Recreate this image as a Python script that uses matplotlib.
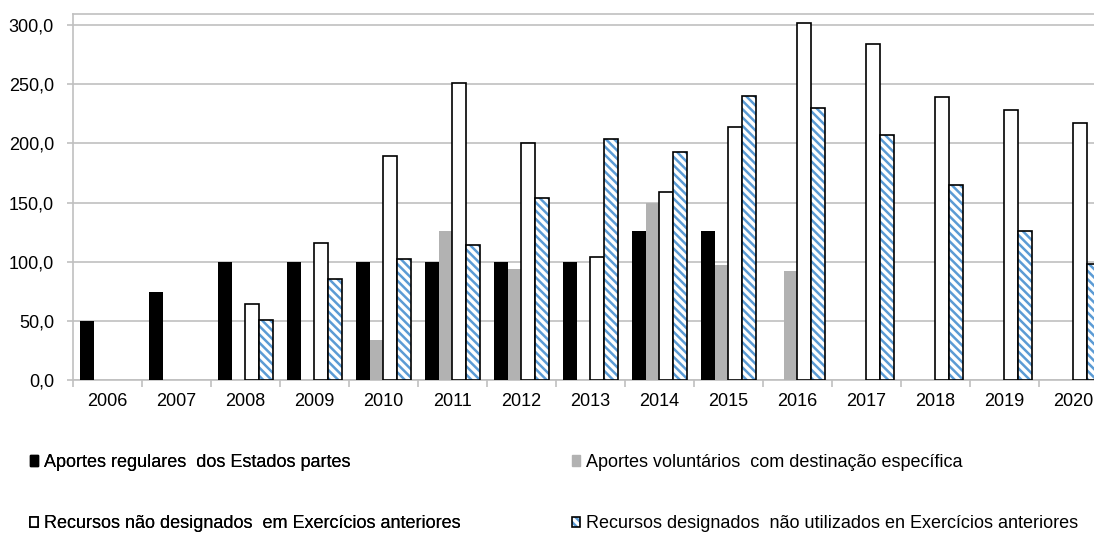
import matplotlib.pyplot as plt
import numpy as np
from matplotlib.legend_handler import HandlerTuple
from matplotlib.patches import Patch

plt.rcParams['font.family'] = ['Liberation Sans', 'DejaVu Sans']
plt.rcParams['hatch.linewidth'] = 1.8

anos = ['2006', '2007', '2008', '2009', '2010', '2011', '2012', '2013',
        '2014', '2015', '2016', '2017', '2018', '2019', '2020']

# valores estimados a partir da figura
regulares = [50, 74, 100, 100, 100, 100, 100, 100, 126, 126, 0, 0, 0, 0, 0]
voluntarios = [0, 0, 0, 0, 34, 126, 94, 0, 150, 97, 92, 0, 0, 0, 0]
nao_designados = [0, 0, 64, 116, 189, 251, 200, 104, 159, 214, 302, 284, 239, 228, 217]
nao_utilizados = [0, 0, 51, 85, 102, 114, 154, 204, 193, 240, 230, 207, 165, 126, 98]

rotulos = ['Aportes regulares  dos Estados partes',
           'Aportes voluntários  com destinação específica',
           'Recursos não designados  em Exercícios anteriores',
           'Recursos designados  não utilizados en Exercícios anteriores']

azul = '#5b9bd5'
grade = '#c0c0c0'


def sem_zeros(valores):
    # barras com valor zero não aparecem no original
    return [v if v > 0 else np.nan for v in valores]


fig = plt.figure(figsize=(10.94, 5.34), dpi=100)
ax = fig.add_axes([73 / 1094, 1 - 380 / 534, 1035 / 1094, 366 / 534])

x = np.arange(len(anos))
w = 0.2

ax.bar(x - 1.5 * w, sem_zeros(regulares), w, color='black', zorder=3)
ax.bar(x - 0.5 * w, sem_zeros(voluntarios), w, color='#b2b2b2', zorder=3)
ax.bar(x + 0.5 * w, sem_zeros(nao_designados), w, color='white', edgecolor='black', linewidth=1.2, zorder=3)
ax.bar(x + 1.5 * w, sem_zeros(nao_utilizados), w, color='white', edgecolor=azul, hatch='\\\\\\\\', linewidth=0, zorder=3)
ax.bar(x + 1.5 * w, sem_zeros(nao_utilizados), w, fill=False, edgecolor='black', linewidth=1.2, zorder=4)

ax.set_xlim(-0.5, len(anos) - 0.5)
ax.set_ylim(0, 309.3)
ax.set_yticks(np.arange(0, 301, 50))
ax.set_yticklabels([f'{v:.1f}'.replace('.', ',') for v in np.arange(0, 301, 50)], fontsize=13)
ax.yaxis.grid(True, color=grade, linewidth=1.2, zorder=0)
ax.set_xticks(x)
ax.set_xticklabels(anos, fontsize=13)
ax.set_xticks(np.arange(-0.5, len(anos)), minor=True)
ax.tick_params(axis='x', which='major', length=0, pad=9)
ax.tick_params(axis='x', which='minor', length=5, color=grade, width=1.2)
ax.tick_params(axis='y', length=4.3, color=grade, width=1.2, pad=9.4)
for lado in ['left', 'top', 'bottom', 'right']:
    ax.spines[lado].set_color(grade)
    ax.spines[lado].set_linewidth(1.2)

h1 = Patch(facecolor='black', edgecolor='black')
h2 = Patch(facecolor='#b2b2b2', edgecolor='#b2b2b2')
h3 = Patch(facecolor='white', edgecolor='black', linewidth=1.2)
h4a = Patch(facecolor='white', edgecolor=azul, hatch='\\\\\\\\', linewidth=0)
h4b = Patch(fill=False, edgecolor='black', linewidth=1.2)

opcoes = dict(handler_map={tuple: HandlerTuple(ndivide=1, pad=0)},
              ncol=1, loc='upper left', frameon=False, fontsize=13,
              handlelength=0.45, handleheight=0.5, handletextpad=0.35,
              labelspacing=2.45, borderpad=0, borderaxespad=0)

leg1 = fig.legend([h1, h3], [rotulos[0], rotulos[2]],
                  bbox_to_anchor=(30 / 1094, 1 - 454 / 534), **opcoes)
fig.add_artist(leg1)
fig.legend([h2, (h4a, h4b)], [rotulos[1], rotulos[3]],
           bbox_to_anchor=(572 / 1094, 1 - 454 / 534), **opcoes)

fig.savefig('out.png', dpi=100)
